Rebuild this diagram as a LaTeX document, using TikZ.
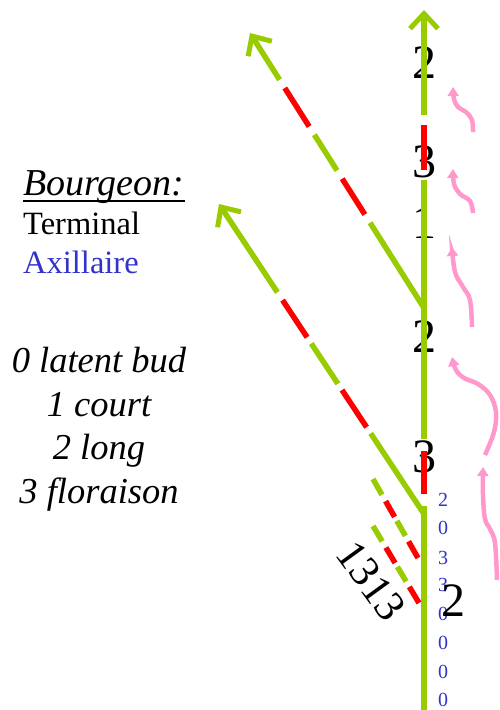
\documentclass[tikz,border=0pt]{standalone}
\usepackage{fontspec}
\setmainfont{Liberation Serif}
\usetikzlibrary{arrows.meta,calc}
\definecolor{budgreen}{HTML}{99CC00}
\definecolor{budred}{HTML}{FF0000}
\definecolor{budpink}{HTML}{FF99CC}
\definecolor{budblue}{HTML}{3333CC}
\begin{document}
\begin{tikzpicture}[x=1pt,y=-1pt,
  gseg/.style={draw=budgreen,line width=5.5pt,line cap=butt},
  rseg/.style={draw=budred,line width=5.5pt,line cap=butt},
  garrow/.style={gseg,-{Straight Barb[length=15pt,width=28pt,line width=5pt]}},
  pinkarrow/.style={draw=budpink,line width=4.5pt,line cap=butt,-{Triangle[length=9pt,width=11pt]}},
  bigdigit/.style={inner sep=0pt,font=\fontsize{48}{48}\selectfont},
  bluedigit/.style={inner sep=0pt,text=budblue,font=\fontsize{20}{20}\selectfont},
  legend/.style={inner sep=0pt,anchor=base west,font=\fontsize{32.5}{32.5}\selectfont},
  keyline/.style={inner sep=0pt,anchor=base,font=\fontsize{36.5}{36.5}\selectfont\itshape}]
\fill[white] (0,0) rectangle (499,710);
\useasboundingbox (0,0) rectangle (499,710);

% legend
\node[legend,font=\fontsize{38}{38}\selectfont\itshape] (hdr) at (23,195) {Bourgeon:};
\draw[line width=1.6pt] ([yshift=-6pt]hdr.base west) -- ([yshift=-6pt]hdr.base east);
\node[legend] (term) at (23,234) {Terminal};
\node[legend,text=budblue] (axil) at (23,273) {Axillaire};
\node[keyline] (k0) at (99,372) {0 latent bud};
\node[keyline] (k1) at (99,416) {1 court};
\node[keyline] (k2) at (99,459) {2 long};
\node[keyline] (k3) at (99,503) {3 floraison};

% labels on the axis
\node[bigdigit] (l1) at (424,63) {2};
\node[bigdigit] (l2) at (424,162) {3};
\node[bigdigit] (l3) at (424,223) {1};
\node[bigdigit] (l4) at (424,337) {2};
\node[bigdigit] (l5) at (424,457) {3};

% axillary bud codes
\node[bluedigit] (b1) at (443,500) {2};
\node[bluedigit] (b2) at (443,528) {0};
\node[bluedigit] (b3) at (443,558) {3};
\node[bluedigit] (b4) at (443,585) {3};
\node[bluedigit] (b5) at (443,614) {0};
\node[bluedigit] (b6) at (443,643) {0};
\node[bluedigit] (b7) at (443,672) {0};
\node[bluedigit] (b8) at (443,700) {0};
\node[bigdigit] (l6) at (453,601) {2};
\node[bigdigit,rotate=-54,font=\fontsize{43}{43}\selectfont] (l7) at (371,581) {1313};

% key points
\coordinate (base) at (424,712);
\coordinate (top) at (424,10);
\coordinate (J1) at (424,308);
\coordinate (T1) at (250,33);
\coordinate (J2) at (424,514);
\coordinate (T2) at (219,204);
\coordinate (S1a) at (373,479);
\coordinate (S1b) at (418,558);
\coordinate (S2a) at (373,526);
\coordinate (S2b) at (419,603);

% main axis
\draw[gseg] (base) -- ($(base)!0.2934!(top)$);
\draw[rseg] ($(base)!0.3105!(top)$) -- ($(base)!0.3718!(top)$);
\draw[gseg] ($(base)!0.3889!(top)$) -- ($(base)!0.7578!(top)$);
\draw[rseg] ($(base)!0.7721!(top)$) -- ($(base)!0.8362!(top)$);
\draw[garrow] ($(base)!0.8504!(top)$) -- (top);

% upper branch
\draw[gseg] (J1) -- ($(T1)!0.69!(J1)$);
\draw[rseg] ($(T1)!0.66!(J1)$) -- ($(T1)!0.53!(J1)$);
\draw[gseg] ($(T1)!0.50!(J1)$) -- ($(T1)!0.37!(J1)$);
\draw[rseg] ($(T1)!0.34!(J1)$) -- ($(T1)!0.20!(J1)$);
\draw[garrow] ($(T1)!0.17!(J1)$) -- (T1);

% lower branch
\draw[gseg] (J2) -- ($(T2)!0.74!(J2)$);
\draw[rseg] ($(T2)!0.72!(J2)$) -- ($(T2)!0.60!(J2)$);
\draw[gseg] ($(T2)!0.58!(J2)$) -- ($(T2)!0.45!(J2)$);
\draw[rseg] ($(T2)!0.43!(J2)$) -- ($(T2)!0.31!(J2)$);
\draw[garrow] ($(T2)!0.285!(J2)$) -- (T2);

% short dashed shoots
\draw[gseg] (S1a) -- ($(S1a)!0.2!(S1b)$);
\draw[rseg] ($(S1a)!0.28!(S1b)$) -- ($(S1a)!0.48!(S1b)$);
\draw[gseg] ($(S1a)!0.53!(S1b)$) -- ($(S1a)!0.72!(S1b)$);
\draw[rseg] ($(S1a)!0.79!(S1b)$) -- (S1b);
\draw[gseg] (S2a) -- ($(S2a)!0.2!(S2b)$);
\draw[rseg] ($(S2a)!0.28!(S2b)$) -- ($(S2a)!0.48!(S2b)$);
\draw[gseg] ($(S2a)!0.53!(S2b)$) -- ($(S2a)!0.72!(S2b)$);
\draw[rseg] ($(S2a)!0.79!(S2b)$) -- (S2b);

% pink growth arrows
\draw[pinkarrow] plot[smooth,tension=0.6] coordinates {(473,132) (472,120) (466,112) (458,107) (454,99) (453,87)};
\draw[pinkarrow] plot[smooth,tension=0.6] coordinates {(473,213) (470,201) (460,194) (454,184) (453,169)};
\draw[pinkarrow] plot[smooth,tension=0.6] coordinates {(472,327) (470,300) (463,287) (455,272) (452,247)};
\draw[pinkarrow] plot[smooth,tension=0.6] coordinates {(485,455) (494,432) (496,412) (490,395) (478,384) (464,378) (456,370) (452,357)};
\draw[pinkarrow] plot[smooth,tension=0.6] coordinates {(497,580) (495,543) (490,529) (485,519) (483,495) (483,467)};
\end{tikzpicture}
\end{document}
